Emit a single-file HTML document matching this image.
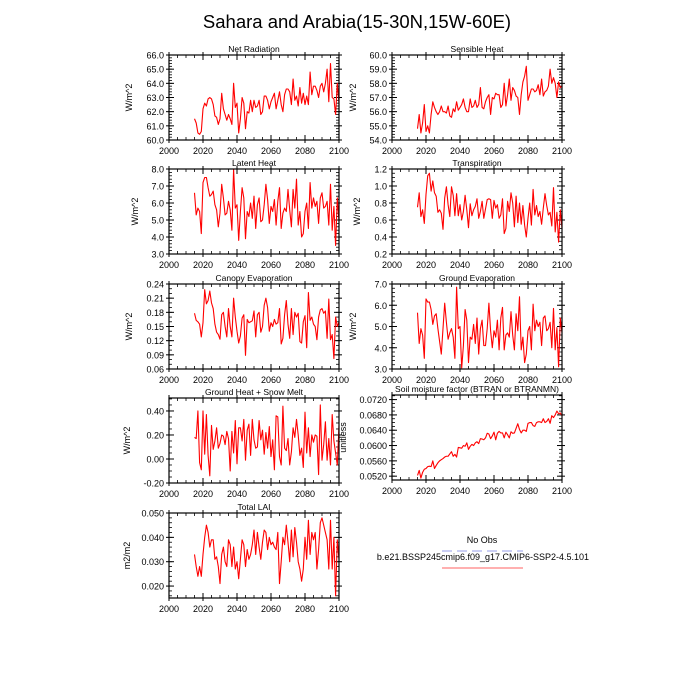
<!DOCTYPE html>
<html><head><meta charset="utf-8"><style>
body{margin:0;background:#fff;}
svg{display:block;font-family:"Liberation Sans",sans-serif;}
</style></head><body>
<svg id="fig" width="700" height="700" viewBox="0 0 700 700">
<text x="357" y="28" font-size="18.5" text-anchor="middle">Sahara and Arabia(15-30N,15W-60E)</text>
<g>
<text x="482" y="543" font-size="9" text-anchor="middle">No Obs</text>
<line x1="442" y1="551" x2="523" y2="551" stroke="#aab0ee" stroke-width="1.2" stroke-dasharray="10,5"/>
<text x="483" y="560" font-size="9" text-anchor="middle">b.e21.BSSP245cmip6.f09_g17.CMIP6-SSP2-4.5.101</text>
<line x1="442" y1="568" x2="523" y2="568" stroke="#ff8080" stroke-width="1.2"/>
</g>
</svg>
<script>
const years=[];for(let y=2015;y<=2100;y++)years.push(y);
const xTicks=[2000,2020,2040,2060,2080,2100];
const netRad=[61.5,61.2,60.5,60.4,60.6,62.2,62.6,62.4,62.9,63.0,62.9,62.5,61.7,61.6,61.1,61.5,63.3,62.2,61.8,61.4,61.8,61.5,61.1,64.0,62.3,62.6,60.5,61.5,63.0,62.6,60.8,62.0,61.9,62.8,62.0,62.8,62.3,62.4,62.8,61.8,62.0,63.1,63.1,62.8,62.2,62.7,63.0,63.3,62.2,62.8,63.4,62.5,62.0,63.2,63.6,63.6,63.4,62.5,64.3,62.8,63.1,62.4,63.7,62.6,63.3,62.5,63.1,62.5,64.8,63.2,63.8,63.8,63.5,63.0,63.8,64.0,63.4,64.0,65.0,62.7,65.4,63.0,62.9,61.8,64.0,62.6];
const sensHeat=[54.8,55.8,54.5,55.2,56.5,54.6,55.0,54.5,55.8,56.7,56.3,56.0,55.8,56.0,56.4,56.0,56.0,55.9,56.4,55.7,55.6,56.2,56.0,56.7,56.1,56.3,56.5,56.9,56.3,56.0,56.0,56.9,56.3,56.4,56.8,56.3,56.5,57.7,56.3,56.2,56.7,57.0,57.2,55.8,57.0,56.9,57.3,57.2,57.2,56.3,56.5,58.0,56.4,57.2,58.3,56.8,57.7,57.5,57.1,57.0,55.8,57.2,58.1,58.5,59.2,56.8,57.2,57.6,57.6,57.4,57.5,57.9,57.2,58.3,57.1,57.4,57.5,57.8,59.0,58.0,58.4,58.0,57.0,58.1,57.7,57.8];
const latHeat=[6.6,5.3,5.7,5.5,4.2,7.2,7.5,7.5,6.9,6.4,6.5,6.7,5.9,5.6,4.6,5.4,7.1,6.3,5.3,5.4,6.1,5.6,4.4,8.0,5.7,5.9,3.8,5.5,6.9,6.3,3.9,5.5,5.2,6.0,5.1,6.4,4.5,5.9,6.3,4.9,5.0,5.9,7.1,6.2,4.8,5.8,5.5,6.2,4.7,6.1,6.9,4.5,5.4,5.7,5.5,6.8,5.6,4.6,6.8,5.7,7.4,4.7,5.5,4.0,4.2,5.5,6.0,4.5,7.2,5.7,6.3,5.8,6.1,4.8,6.3,6.6,5.7,5.8,6.1,4.7,7.1,4.4,5.8,3.5,6.3,4.9];
const transp=[0.75,0.92,0.64,0.72,0.56,0.90,1.12,1.15,0.94,1.06,0.92,0.88,0.69,0.72,0.68,0.49,0.86,0.99,0.78,0.64,0.99,0.89,0.65,0.91,0.65,0.78,0.60,0.70,0.89,0.72,0.51,0.79,0.65,0.72,0.76,0.85,0.62,0.70,0.82,0.62,0.73,0.84,0.85,0.84,0.62,0.83,0.74,0.78,0.62,0.66,0.85,0.44,0.50,0.82,0.70,0.92,0.80,0.52,0.88,0.57,0.80,0.55,0.77,0.54,0.40,0.62,0.80,0.54,0.96,0.66,0.77,0.64,0.70,0.55,0.74,0.91,0.77,0.66,0.69,0.53,0.98,0.46,0.69,0.34,0.72,0.50];
const canopyEvap=[0.178,0.163,0.160,0.155,0.128,0.158,0.228,0.198,0.205,0.225,0.200,0.188,0.155,0.138,0.133,0.123,0.175,0.180,0.150,0.128,0.188,0.150,0.128,0.210,0.170,0.140,0.115,0.130,0.168,0.175,0.089,0.165,0.158,0.160,0.162,0.183,0.128,0.175,0.180,0.138,0.150,0.195,0.210,0.190,0.140,0.158,0.150,0.165,0.155,0.158,0.188,0.113,0.125,0.175,0.205,0.155,0.125,0.188,0.133,0.180,0.170,0.178,0.118,0.115,0.160,0.173,0.105,0.222,0.163,0.170,0.155,0.150,0.122,0.170,0.185,0.188,0.178,0.183,0.125,0.208,0.122,0.133,0.082,0.170,0.150,0.160];
const groundEvap=[5.65,4.2,4.9,4.6,3.5,6.3,6.15,6.15,5.8,5.1,5.5,5.6,4.9,4.3,3.7,4.9,6.1,5.2,4.4,4.7,4.9,4.5,3.5,6.85,4.9,5.0,3.05,4.1,5.8,5.3,3.3,4.5,4.4,5.1,4.2,5.4,3.7,4.9,5.3,4.1,4.1,4.9,6.1,4.8,4.0,4.8,4.5,5.3,3.9,5.4,5.9,3.9,4.6,4.7,4.5,5.7,4.6,3.9,5.6,4.8,6.4,3.9,4.5,3.3,3.7,4.8,5.0,3.9,6.05,4.8,5.3,5.0,5.2,4.1,5.4,5.5,4.8,4.9,5.2,4.0,5.85,3.9,4.95,3.1,5.4,4.7];
const groundHeat=[0.18,0.17,0.40,-0.03,-0.09,0.40,0.04,0.37,0.03,-0.14,0.28,0.08,0.15,0.26,0.09,0.13,0.20,0.19,0.12,0.23,0.17,-0.10,0.23,0.05,0.32,-0.04,0.26,0.26,0.15,0.33,-0.01,0.24,0.29,0.03,0.33,0.16,0.09,0.10,0.32,0.16,0.24,0.04,0.22,0.09,0.27,0.02,0.16,-0.09,0.36,0.35,0.02,-0.05,0.44,0.09,0.07,0.17,-0.05,0.06,0.26,0.18,0.33,0.20,0.03,0.09,-0.07,0.39,0.05,0.26,0.02,0.20,0.14,0.20,0.19,-0.13,0.45,-0.01,0.12,0.31,-0.01,0.17,-0.05,0.37,0.15,0.05,-0.05,0.28];
const soilMoist=[.0522,.0535,.0515,.0530,.0538,.0540,.0545,.0546,.0545,.0560,.0540,.0548,.0555,.0560,.0563,.0566,.0570,.0572,.0572,.0578,.0584,.0572,.0577,.0570,.0595,.0594,.0593,.0600,.0598,.0607,.0590,.0598,.0603,.0600,.0607,.0610,.0605,.0618,.0617,.0615,.0620,.0632,.0630,.0618,.0625,.0635,.0615,.0632,.0637,.0633,.0633,.0620,.0635,.0628,.0620,.0636,.0632,.0633,.0645,.0657,.0642,.0633,.0640,.0640,.0637,.0658,.0660,.0660,.0652,.0650,.0660,.0662,.0662,.0660,.0670,.0660,.0663,.0670,.0658,.0678,.0673,.0680,.0690,.0683,.0685,.0678];
const totalLai=[.033,.028,.024,.028,.024,.033,.040,.045,.042,.036,.039,.039,.031,.032,.028,.021,.033,.036,.030,.028,.039,.037,.028,.036,.027,.030,.023,.031,.039,.037,.028,.035,.031,.033,.037,.043,.033,.042,.036,.031,.038,.043,.042,.035,.040,.037,.038,.036,.035,.042,.021,.030,.040,.037,.045,.038,.030,.043,.032,.044,.038,.030,.027,.022,.027,.040,.031,.047,.033,.042,.039,.042,.027,.035,.046,.048,.045,.042,.039,.027,.047,.027,.040,.016,.039,.031];
const netRadTicks=["60.0","61.0","62.0","63.0","64.0","65.0","66.0"];
const sensTicks=["54.0","55.0","56.0","57.0","58.0","59.0","60.0"];
const latTicks=["3.0","4.0","5.0","6.0","7.0","8.0"];
const transpTicks=["0.2","0.4","0.6","0.8","1.0","1.2"];
const canopyTicks=["0.06","0.09","0.12","0.15","0.18","0.21","0.24"];
const gEvapTicks=["3.0","4.0","5.0","6.0","7.0"];
const gHeatTicks=["-0.20","0.00","0.20","0.40"];
const soilTicks=["0.0520","0.0560","0.0600","0.0640","0.0680","0.0720"];
const laiTicks=["0.020","0.030","0.040","0.050"];

const NS="http://www.w3.org/2000/svg";
const svg=document.getElementById('fig');
function mk(tag,attrs,parent){const e=document.createElementNS(NS,tag);for(const k in attrs)e.setAttribute(k,attrs[k]);parent.appendChild(e);return e;}

function panel(name,title,ytitle,vals,yticks,ymin,ymax,minorStep,x0,top,ylabX,ytitleX){
  const x1=x0+170,h=85,bot=top+h;
  const g=mk('g',{},svg);
  
  
  const X=v=>x0+(v-2000)/100*170;
  const Y=v=>bot-(v-ymin)/(ymax-ymin)*h;
  const t=mk('text',{x:(x0+x1)/2,y:top-3,'font-size':8.5,'text-anchor':'middle'},g);
  t.textContent=title;
  
  
  const yt=mk('text',{x:ytitleX,y:top+h/2,'font-size':9,'text-anchor':'middle',transform:`rotate(-90 ${ytitleX} ${top+h/2})`},g);
  yt.textContent=ytitle;
  
  
  // minor y ticks
  const lo=parseFloat(yticks[0]);
  for(let v=lo-20*minorStep;v<=ymax+1e-9;v+=minorStep){
    if(v<ymin-1e-9)continue;const y=Y(v);
    mk('line',{x1:x0,y1:y,x2:x0+3,y2:y,stroke:'#000','stroke-width':0.8},g);
    mk('line',{x1:x1,y1:y,x2:x1-3,y2:y,stroke:'#000','stroke-width':0.8},g);
  }
  yticks.forEach(s=>{const v=parseFloat(s),y=Y(v);
    mk('line',{x1:x0-3,y1:y,x2:x0+5,y2:y,stroke:'#000','stroke-width':1},g);
    mk('line',{x1:x1+3,y1:y,x2:x1-5,y2:y,stroke:'#000','stroke-width':1},g);
    const l=mk('text',{x:x0-5,y:y+3.5,'font-size':9,'text-anchor':'end'},g);l.textContent=s;
    
    
  });
  for(let v=2000;v<=2100;v+=5){const x=X(v);
    mk('line',{x1:x,y1:bot,x2:x,y2:bot-3,stroke:'#000','stroke-width':0.8},g);
    mk('line',{x1:x,y1:top,x2:x,y2:top+3,stroke:'#000','stroke-width':0.8},g);}
  xTicks.forEach(v=>{const x=X(v);
    mk('line',{x1:x,y1:bot+3,x2:x,y2:bot-5,stroke:'#000','stroke-width':1},g);
    mk('line',{x1:x,y1:top-3,x2:x,y2:top+5,stroke:'#000','stroke-width':1},g);
    const l=mk('text',{x:x,y:bot+14,'font-size':9,'text-anchor':'middle'},g);l.textContent=v;
    
    
  });
  const d=vals.map((v,i)=>(i?'L':'M')+X(years[i]).toFixed(2)+' '+Y(v).toFixed(2)).join(' ');
  const p=mk('path',{d:d,fill:'none',stroke:'#ff0000','stroke-width':1.1,'stroke-linejoin':'round'},g);
  
  
  const r=mk('rect',{x:x0,y:top,width:170,height:h,fill:'none',stroke:'#000','stroke-width':1.2},g);
  
  
}
const L=169,R=392;
panel('net-radiation','Net Radiation','W/m^2',netRad,netRadTicks,60,66,0.2,L,55,0,132);
panel('sensible-heat','Sensible Heat','W/m^2',sensHeat,sensTicks,54,60,0.2,R,55,0,356);
panel('latent-heat','Latent Heat','W/m^2',latHeat,latTicks,3,8,0.2,L,169,0,138);
panel('transpiration','Transpiration','W/m^2',transp,transpTicks,0.2,1.2,0.05,R,169,0,360);
panel('canopy-evaporation','Canopy Evaporation','W/m^2',canopyEvap,canopyTicks,0.06,0.24,0.01,L,284,0,132);
panel('ground-evaporation','Ground Evaporation','W/m^2',groundEvap,gEvapTicks,3,7,0.2,R,284,0,356);
panel('ground-heat','Ground Heat + Snow Melt','W/m^2',groundHeat,gHeatTicks,-0.2,0.508,0.05,L,398,0,130);
panel('soil-moisture','Soil moisture factor (BTRAN or BTRANMN)','unitless',soilMoist,soilTicks,0.0510,0.0732,0.001,R,395,0,346);
panel('total-lai','Total LAI','m2/m2',totalLai,laiTicks,0.0151,0.050,0.002,L,513,0,130);
</script>
</body></html>
